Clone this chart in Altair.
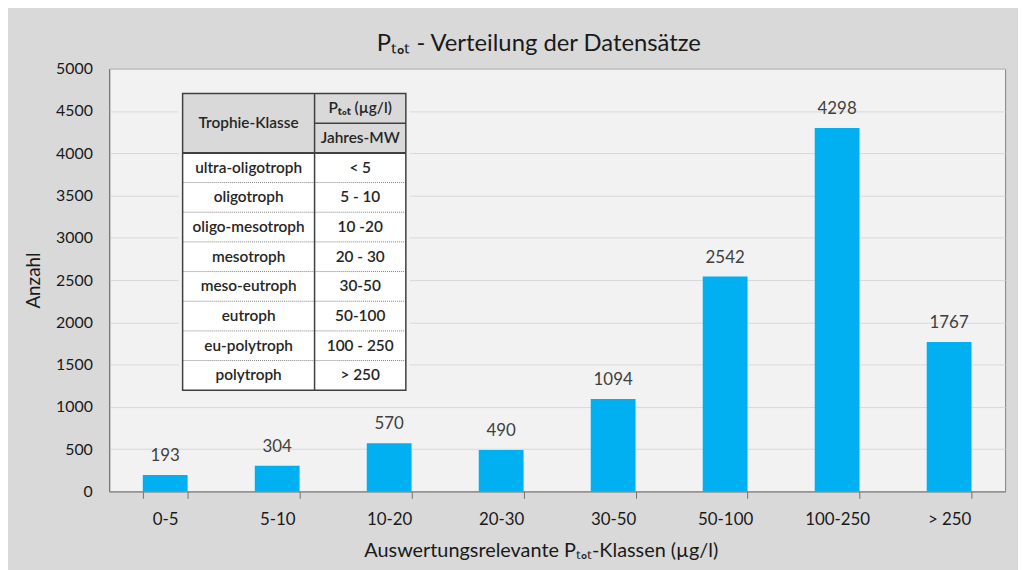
import altair as alt
import pandas as pd

# ---------------- data ----------------
categories = ["0-5", "5-10", "10-20", "20-30", "30-50", "50-100", "100-250", "> 250"]
counts = [193, 304, 570, 490, 1094, 2542, 4298, 1767]

klassen = ["ultra-oligotroph", "oligotroph", "oligo-mesotroph", "mesotroph",
           "meso-eutroph", "eutroph", "eu-polytroph", "polytroph"]
jahres_mw = ["< 5", "5 - 10", "10 -20", "20 - 30", "30-50", "50-100", "100 - 250", "> 250"]

header_left = "Trophie-Klasse"
header_right_top = "Pₜₒₜ (µg/l)"
header_right_bottom = "Jahres-MW"

chart_title = "Pₜₒₜ - Verteilung der Datensätze"
x_title = "Auswertungsrelevante Pₜₒₜ-Klassen (µg/l)"
y_title = "Anzahl"
y_ticks = [0, 500, 1000, 1500, 2000, 2500, 3000, 3500, 4000, 4500, 5000]

FONT = "Lato"
TXT = "#1a1a1a"
AXC = "#737373"

df = pd.DataFrame({"klasse": categories, "anzahl": counts})

x_enc = alt.X(
    "klasse:N", sort=categories,
    scale=alt.Scale(paddingInner=0.6, paddingOuter=0.3),
    axis=alt.Axis(
        title=x_title, labelAngle=0, labelFont=FONT, labelFontSize=17, labelColor=TXT,
        labelPadding=13, tickBand="extent", tickSize=7, tickColor=AXC, domainColor=AXC,
        grid=False, titleFont=FONT, titleFontSize=20, titleFontWeight="normal",
        titleColor=TXT, titleX=435, titleY=60, titleBaseline="middle", titleAlign="center",
    ),
)
y_enc = alt.Y(
    "anzahl:Q",
    scale=alt.Scale(domain=[0, 5000], nice=False),
    axis=alt.Axis(
        values=y_ticks, format="d", title=y_title, labelFont=FONT, labelFontSize=16,
        labelColor=TXT, ticks=False, tickSize=0, labelPadding=17, domainColor=AXC,
        grid=True, gridColor="#d9d9d9", gridWidth=1, titleFont=FONT, titleFontSize=19,
        titleFontWeight="normal", titleColor=TXT, titleX=-76, titleY=213,
        titleBaseline="middle", titleAlign="center", titleAngle=270,
    ),
)

base = alt.Chart(df)
bars = base.mark_bar(color="#00B0F0").encode(x=x_enc, y=y_enc)
labels = base.mark_text(dy=-14, baseline="alphabetic", font=FONT, fontSize=17,
                        color="#404040").encode(x=x_enc, y=y_enc, text="anzahl:Q")
title_text = alt.Chart(pd.DataFrame({"t": [chart_title]})).mark_text(
    font=FONT, fontSize=24, color=TXT, baseline="alphabetic", align="center"
).encode(x=alt.value(433), y=alt.value(-18), text="t:N")

main = alt.layer(bars, labels, title_text)

# ---------------- inset table ----------------
TX0, TX1, TX2 = 74, 207, 299  # left, divider, right (px inside plot)
sx = alt.Scale(domain=[0, 903], nice=False, zero=False)
sy = alt.Scale(domain=[-0.836, 13.41], nice=False, zero=False, reverse=True)

def X(f):
    return alt.X(f, scale=sx, axis=None)

def Y(f):
    return alt.Y(f, scale=sy, axis=None)

n = len(klassen)
rects = pd.DataFrame({
    "x": [TX0 - 4, TX0, TX0],
    "x2": [TX2 + 4, TX2, TX2],
    "y": [-0.14, 0, 2],
    "y2": [n + 2 + 0.14, 2, n + 2],
    "fill": ["#f2f2f2", "#d9d9d9", "#ffffff"],
})
rect_layer = alt.Chart(rects).mark_rect().encode(
    x=X("x:Q"), x2="x2", y=Y("y:Q"), y2="y2",
    color=alt.Color("fill:N", scale=None),
)

dotted = pd.DataFrame({"x": [TX0] * (n - 1), "x2": [TX2] * (n - 1),
                       "y": [3 + i for i in range(n - 1)]})
dotted_layer = alt.Chart(dotted).mark_rule(color="#808080", strokeDash=[1, 1],
                                           strokeWidth=1).encode(
    x=X("x:Q"), x2="x2", y=Y("y:Q"))

solid = pd.DataFrame({
    "x": [TX1, TX0], "x2": [TX2, TX2], "y": [1, 2], "w": [1.5, 2.0],
})
solid_layer = alt.Chart(solid).mark_rule(color="#404040").encode(
    x=X("x:Q"), x2="x2", y=Y("y:Q"), strokeWidth=alt.StrokeWidth("w:Q", scale=None))

vline = pd.DataFrame({"x": [TX1], "y": [0], "y2": [n + 2]})
vline_layer = alt.Chart(vline).mark_rule(color="#404040", strokeWidth=1.5).encode(
    x=X("x:Q"), y=Y("y:Q"), y2="y2")

border = pd.DataFrame({"x": [TX0], "x2": [TX2], "y": [0], "y2": [n + 2]})
border_layer = alt.Chart(border).mark_rect(filled=False, stroke="#404040",
                                           strokeWidth=1.5).encode(
    x=X("x:Q"), x2="x2", y=Y("y:Q"), y2="y2")

cx_left = (TX0 + TX1) / 2
cx_right = (TX1 + TX2) / 2
texts = pd.DataFrame({
    "tx": [cx_left, cx_right, cx_right] + [cx_left] * n + [cx_right] * n,
    "ty": [1.0, 0.5, 1.5] + [2.5 + i for i in range(n)] * 2,
    "label": [header_left, header_right_top, header_right_bottom] + klassen + jahres_mw,
})
text_layer = alt.Chart(texts).mark_text(
    font=FONT, fontSize=15.5, fontWeight=600, color="#262626", baseline="middle",
    align="center"
).encode(x=X("tx:Q"), y=Y("ty:Q"), text="label:N")

table = alt.layer(rect_layer, dotted_layer, solid_layer, vline_layer, border_layer,
                  text_layer)

chart = alt.layer(main, table).resolve_scale(x="independent", y="independent").properties(
    width=903, height=426,
    padding={"left": 102, "top": 59, "right": 13, "bottom": 77},
    autosize=alt.AutoSizeParams(type="none"),
    background="#d9d9d9",
).configure_view(fill="#f2f2f2", stroke="#808080", strokeWidth=1)

chart.save("out.html", embed_options={"renderer": "svg", "actions": False})
